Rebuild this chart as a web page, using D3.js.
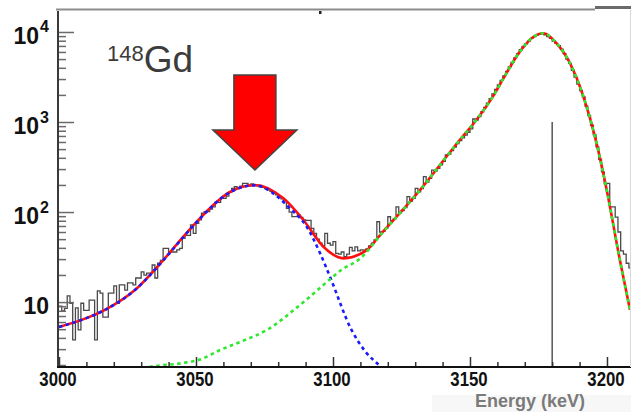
<!DOCTYPE html>
<html><head><meta charset="utf-8">
<script src="https://cdn.jsdelivr.net/npm/d3@7"></script>
<style>html,body{margin:0;padding:0;background:#fff;} svg{display:block;}</style>
</head><body>
<svg id="chart" width="631" height="412"></svg>
<script>
// ---------- data ----------
const histFirstBin = 3000;
const histBinWidth = 1;
const histCounts = [
  9, 8, 8.5, 11.7, 9.7, 3.8, 8.6, 4.9, 9.7, 8.1,
  8.1, 10.5, 10.5, 3.8, 13.3, 12.6, 6.8, 6.8, 12.6, 12.6,
  15.1, 9.7, 15.5, 15.5, 13.6, 16.3, 16.3, 15.5, 18.5, 18.5,
  21.7, 19.9, 21, 21, 25.8, 18.5, 27, 29, 39.5, 39.5,
  36, 36, 36, 38, 39.5, 51, 55, 55, 72, 58,
  75, 82, 97, 101, 101, 108, 114, 130, 128, 142,
  142, 150, 165, 183, 191, 185, 194, 208, 208, 194,
  205, 200, 195, 190, 188, 182, 176, 170, 162, 155,
  148, 140, 135, 110, 100, 89, 89, 93, 87, 82,
  81, 81, 66, 58, 50, 45, 42, 58, 45, 43,
  47, 34.7, 34, 36, 32, 34, 40.5, 37, 41, 37,
  38, 37.8, 39, 42, 45, 49, 78, 60, 61, 66,
  88.6, 80, 84, 114, 98, 104, 112, 148, 132, 142,
  183, 168, 182, 247, 215, 236, 292, 285, 305, 335,
  365, 430, 440, 480, 525, 575, 620, 665, 715, 770,
  840, 1080, 1050, 1150, 1300, 1450, 1620, 1820, 2050, 2300,
  2580, 2900, 3250, 3650, 4100, 4600, 5150, 5750, 6350, 6900,
  7400, 7930, 8500, 8900, 9220, 9430, 9650, 9320, 8890, 8490,
  7940, 7490, 7070, 6440, 5740, 4990, 4480, 3760, 3150, 2640,
  2230, 1900, 1500, 1180, 920, 720, 530, 385, 280, 205,
  208, 114, 114, 88, 60, 37, 34, 27, 24
];

// total fit (red, solid)
const fitTotalEnergy = [3000, 3008, 3016.8, 3027.7, 3038.7, 3045.4, 3051.5, 3062.4, 3071.5, 3081.9, 3089.2, 3096.5, 3103.8, 3112.3, 3117.2, 3131.8, 3146.4, 3152.4, 3158.5, 3162.2, 3168.2, 3173.1, 3176.7, 3181.6, 3186.5, 3191.4, 3195.6, 3199.9, 3204.7, 3208.4];
const fitTotalCounts = [5.3, 6.3, 8.2, 13.6, 30.8, 53.2, 85.7, 167, 200, 142, 81.5, 41.2, 30.6, 37.8, 55.5, 176, 640, 1060, 1950, 3050, 6050, 8800, 9670, 7490, 4490, 1910, 687, 176, 29.3, 8.2];

// first peak component (blue, dashed)
const fitPeak1Energy = [3000, 3008, 3016.8, 3027.7, 3038.7, 3045.4, 3051.5, 3062.4, 3071.5, 3080, 3084.3, 3090.4, 3095.3, 3098.9, 3106.8, 3112, 3117.2, 3120];
const fitPeak1Counts = [5.3, 6.3, 8.2, 13.6, 30.6, 52.8, 85, 166, 198, 146, 110, 68.7, 34.8, 19.1, 4.88, 2.78, 1.94, 1.6];

// main 148Gd peak component (green, dashed)
const fitPeak2Energy = [3028, 3033, 3045, 3051.5, 3058.8, 3067, 3075.8, 3088, 3100, 3103, 3110, 3117.2, 3131.8, 3146.4, 3152.4, 3158.5, 3162.2, 3168.2, 3173.1, 3176.7, 3181.6, 3186.5, 3191.4, 3195.6, 3199.9, 3204.7, 3208.4];
const fitPeak2Counts = [1.75, 1.9, 2.1, 2.3, 2.93, 3.7, 4.88, 9.3, 19.1, 22.7, 30.5, 55, 176, 640, 1060, 1950, 3050, 6050, 8800, 9670, 7490, 4490, 1910, 687, 176, 29.3, 8.2];

const markerEnergy = 3180;
const markerCounts = 1000;
const arrowEnergy = 3071.5;

const xMajorTicks = [3000, 3050, 3100, 3150, 3200];
const xTickLabels = ["3000", "3050", "3100", "3150", "3200"];
const xMinorStep = 10;
const yMajorTicks = [10, 100, 1000, 10000];
const yTickExponents = ["", "2", "3", "4"];
const isotopeMass = "148";
const isotopeName = "Gd";
const xAxisTitle = "Energy (keV)";

// ---------- layout ----------
const svg = d3.select("#chart");
const L = 58, R = 630, T = 9, B = 367;
const xs = d3.scaleLinear().domain([3000, 3208.4]).range([59, 630]);
const ys = d3.scaleLog().domain([1.9, 18000]).range([B, T]);

svg.append("rect").attr("width", 631).attr("height", 412).attr("fill", "#fff");
// faint box behind axis title
svg.append("rect").attr("x", 432).attr("y", 395).attr("width", 199).attr("height", 17).attr("fill", "#f7f7f7");

svg.append("defs").append("clipPath").attr("id", "plot")
  .append("rect").attr("x", L).attr("y", T).attr("width", R - L).attr("height", B - T);

const plot = svg.append("g").attr("clip-path", "url(#plot)");

// histogram (step)
const histPts = histCounts.map((c, i) => [histFirstBin + i * histBinWidth, c]);
histPts.push([histFirstBin + histCounts.length * histBinWidth, histCounts[histCounts.length - 1]]);
const stepLine = d3.line().x(d => xs(d[0])).y(d => ys(d[1])).curve(d3.curveStepAfter);
plot.append("path").attr("d", stepLine(histPts))
  .attr("fill", "none").attr("stroke", "#4a4a4a").attr("stroke-width", 1.3);

// vertical marker
plot.append("line")
  .attr("x1", xs(markerEnergy)).attr("x2", xs(markerEnergy))
  .attr("y1", ys(markerCounts)).attr("y2", B)
  .attr("stroke", "#555").attr("stroke-width", 1.5);

const fitLine = d3.line().x(d => xs(d[0])).y(d => ys(d[1])).curve(d3.curveMonotoneX);
const zipPts = (e, c) => e.map((v, i) => [v, c[i]]);

plot.append("path").attr("d", fitLine(zipPts(fitTotalEnergy, fitTotalCounts)))
  .attr("fill", "none").attr("stroke", "#ff1010").attr("stroke-width", 2.6);
plot.append("path").attr("d", fitLine(zipPts(fitPeak1Energy, fitPeak1Counts)))
  .attr("fill", "none").attr("stroke", "#1a1aff").attr("stroke-width", 2.6)
  .attr("stroke-dasharray", "3.5,3.5");
plot.append("path").attr("d", fitLine(zipPts(fitPeak2Energy, fitPeak2Counts)))
  .attr("fill", "none").attr("stroke", "#2ee82e").attr("stroke-width", 2.6)
  .attr("stroke-dasharray", "3.5,3.5");

// ---------- axes ----------
const tickColor = "#6a6a6a";
const yMinor = ys.ticks().filter(v => !yMajorTicks.includes(v));
svg.append("g").attr("transform", `translate(${L},0)`)
  .call(d3.axisLeft(ys).tickValues(yMinor).tickSize(-8).tickFormat(""))
  .call(g => g.select(".domain").remove())
  .call(g => g.selectAll("line").attr("stroke", tickColor).attr("stroke-width", 1.5));
svg.append("g").attr("transform", `translate(${L},0)`)
  .call(d3.axisLeft(ys).tickValues(yMajorTicks).tickSize(-16).tickFormat(""))
  .call(g => g.select(".domain").remove())
  .call(g => g.selectAll("line").attr("stroke", tickColor).attr("stroke-width", 1.5));

const xMinor = d3.range(3000, 3210, xMinorStep).filter(v => !xMajorTicks.includes(v));
svg.append("g").attr("transform", `translate(0,${B})`)
  .call(d3.axisBottom(xs).tickValues(xMinor).tickSize(-5).tickFormat(""))
  .call(g => g.select(".domain").remove())
  .call(g => g.selectAll("line").attr("stroke", "#333").attr("stroke-width", 1.5));
svg.append("g").attr("transform", `translate(0,${B})`)
  .call(d3.axisBottom(xs).tickValues(xMajorTicks).tickSize(-10).tickFormat(""))
  .call(g => g.select(".domain").remove())
  .call(g => g.selectAll("line").attr("stroke", "#333").attr("stroke-width", 1.5));

svg.append("line").attr("x1", L).attr("x2", L).attr("y1", 11).attr("y2", B + 1)
  .attr("stroke", "#3a3a3a").attr("stroke-width", 2);
svg.append("line").attr("x1", L - 1).attr("x2", 631).attr("y1", B).attr("y2", B)
  .attr("stroke", "#111").attr("stroke-width", 2);
svg.append("line").attr("x1", 56).attr("x2", 595).attr("y1", 9.5).attr("y2", 9.5)
  .attr("stroke", "#8c8c8c").attr("stroke-width", 2);
svg.append("line").attr("x1", 595).attr("x2", 631).attr("y1", 7.5).attr("y2", 7.5)
  .attr("stroke", "#6a6a6a").attr("stroke-width", 3);
svg.append("line").attr("x1", 630.5).attr("x2", 630.5).attr("y1", 10).attr("y2", B)
  .attr("stroke", "#d8d8d8").attr("stroke-width", 1);
svg.append("rect").attr("x", 319).attr("y", 11).attr("width", 2.5).attr("height", 3).attr("fill", "#222");

yMajorTicks.forEach((v, i) => {
  const t = svg.append("text").attr("x", 49).attr("y", ys(v) + 12)
    .attr("text-anchor", "end")
    .attr("font-family", "'Liberation Sans', Arial, sans-serif")
    .attr("font-weight", "bold").attr("font-size", 23).attr("fill", "#111");
  t.append("tspan").text("10");
  if (yTickExponents[i]) {
    t.append("tspan").attr("dx", 1).attr("dy", -11.5).attr("font-size", 16).text(yTickExponents[i]);
  }
});

xMajorTicks.forEach((v, i) => {
  svg.append("g").attr("transform", `translate(${xs(v) - 1},386) scale(0.84,1)`)
    .append("text").attr("text-anchor", "middle")
    .attr("font-family", "'Liberation Sans', Arial, sans-serif")
    .attr("font-weight", "bold").attr("font-size", 20).attr("fill", "#111")
    .text(xTickLabels[i]);
});

svg.append("text").attr("x", 475).attr("y", 407)
  .attr("font-family", "'Liberation Sans', Arial, sans-serif")
  .attr("font-weight", "bold").attr("font-size", 18).attr("fill", "#7a7a7a")
  .text(xAxisTitle);

const iso = svg.append("text").attr("x", 107).attr("y", 72)
  .attr("font-family", "'Liberation Sans', Arial, sans-serif").attr("fill", "#3c3c3c");
iso.append("tspan").attr("font-size", 22).attr("dy", -11).text(isotopeMass);
iso.append("tspan").attr("font-size", 37).attr("dy", 11).text(isotopeName);

const cx = xs(arrowEnergy);
const arrowPts = [[cx - 21, 75], [cx + 21, 75], [cx + 21, 130], [cx + 42, 130], [cx, 170], [cx - 42, 130], [cx - 21, 130]];
svg.append("path").attr("d", d3.line()(arrowPts) + "Z")
  .attr("fill", "#ff0000").attr("stroke", "#444").attr("stroke-width", 1.5)
  .attr("stroke-linejoin", "miter");
</script>
</body></html>
